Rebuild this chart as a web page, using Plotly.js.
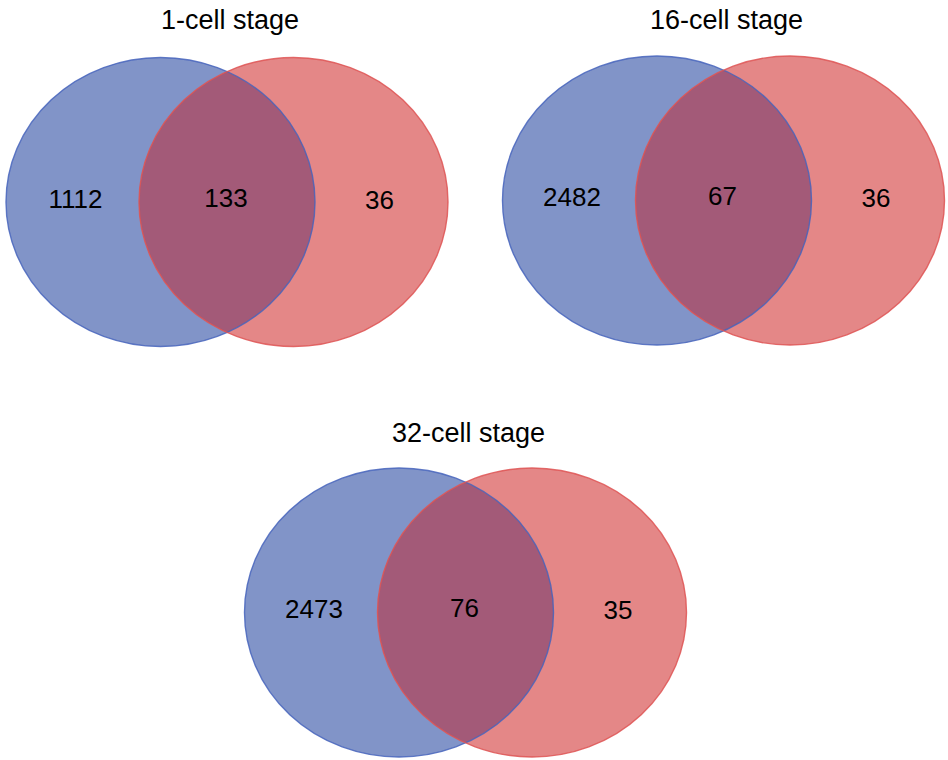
<!DOCTYPE html>
<html>
<head>
<meta charset="utf-8">
<script src="https://cdn.plot.ly/plotly-3.0.1.min.js"></script>
<style>
  html, body { margin: 0; padding: 0; background: #ffffff; }
  #chart { width: 948px; height: 760px; }
</style>
</head>
<body>
<div id="chart"></div>
<script>
// Gene counts per embryo stage: unique to set A, shared, unique to set B
const stages = ['1-cell stage', '16-cell stage', '32-cell stage'];
const leftOnly = [1112, 2482, 2473];
const shared = [133, 67, 76];
const rightOnly = [36, 36, 35];

// Panel geometry (pixel-space axes): centre of the left ellipse of each panel
const panelX = [160.5, 657, 399];
const panelY = [202, 200.5, 612.5];
const titleY = [20, 20, 433];
const RX = 154.5, RY = 144.5, SEP = 133;

const BLUE_FILL = '#8194c8', RED_FILL = '#e48787', BOTH_FILL = '#a35a78';
const BLUE_LINE = 'rgba(70,100,188,0.85)', RED_LINE = 'rgba(222,84,84,0.85)';
const FONT = 'Liberation Sans, Arial, sans-serif';

const shapes = [];
const traces = [];
const annotations = [];

function ellipse(cx, cy, fill, line, outlineOnly, layer) {
  return {
    type: 'circle', xref: 'x', yref: 'y', layer: layer,
    x0: cx - RX, x1: cx + RX, y0: cy - RY, y1: cy + RY,
    fillcolor: fill, line: { color: line, width: outlineOnly ? 1.4 : 0 }
  };
}

// Lens-shaped overlap built from the two ellipse arcs
function lens(cxL, cxR, cy) {
  const xs = [], ys = [];
  const tMax = Math.acos((SEP / 2) / RX);
  const n = 120;
  // right arc of the left ellipse, top to bottom
  for (let i = 0; i <= n; i++) {
    const t = -tMax + (2 * tMax) * i / n;
    xs.push(cxL + RX * Math.cos(t));
    ys.push(cy + RY * Math.sin(t));
  }
  // left arc of the right ellipse, bottom to top
  for (let i = 0; i <= n; i++) {
    const t = Math.PI - tMax + (2 * tMax) * (n - i) / n;
    xs.push(cxR + RX * Math.cos(t));
    ys.push(cy + RY * Math.sin(t));
  }
  return { xs, ys };
}

stages.forEach((name, k) => {
  const cxL = panelX[k], cxR = panelX[k] + SEP, cy = panelY[k];
  const mid = (cxL + cxR) / 2;

  shapes.push(ellipse(cxL, cy, BLUE_FILL, BLUE_LINE, false, 'below'));
  shapes.push(ellipse(cxR, cy, RED_FILL, RED_LINE, false, 'below'));

  const p = lens(cxL, cxR, cy);
  traces.push({
    type: 'scatter', mode: 'lines', fill: 'toself',
    x: p.xs, y: p.ys,
    fillcolor: BOTH_FILL, line: { width: 0, color: BOTH_FILL },
    hoverinfo: 'skip', showlegend: false
  });

  shapes.push(ellipse(cxL, cy, 'rgba(0,0,0,0)', BLUE_LINE, true, 'above'));
  shapes.push(ellipse(cxR, cy, 'rgba(0,0,0,0)', RED_LINE, true, 'above'));

  traces.push({
    type: 'scatter', mode: 'text',
    x: [cxL - 85, mid - 1, cxR + 86],
    y: [cy - 1, cy - 2, cy],
    text: [String(leftOnly[k]), String(shared[k]), String(rightOnly[k])],
    textposition: 'middle center',
    textfont: { family: FONT, size: 26, color: '#000000' },
    hoverinfo: 'skip', showlegend: false
  });

  annotations.push({
    xref: 'x', yref: 'y', x: mid + 3, y: titleY[k],
    text: name, showarrow: false,
    xanchor: 'center', yanchor: 'middle',
    font: { family: FONT, size: 27, color: '#000000' }
  });
});

const layout = {
  width: 948, height: 760,
  margin: { l: 0, r: 0, t: 0, b: 0 },
  paper_bgcolor: '#ffffff', plot_bgcolor: '#ffffff',
  xaxis: { range: [0, 948], visible: false, fixedrange: true },
  yaxis: { range: [760, 0], visible: false, fixedrange: true },
  shapes: shapes,
  annotations: annotations,
  showlegend: false
};

Plotly.newPlot('chart', traces, layout, { displayModeBar: false, staticPlot: true });
</script>
</body>
</html>
